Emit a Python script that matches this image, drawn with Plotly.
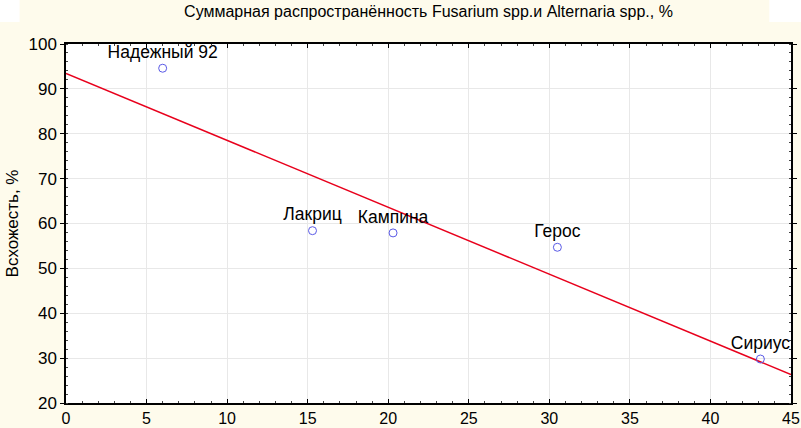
import numpy as np
import plotly.graph_objects as go

varieties = ["Надежный 92", "Лакриц", "Кампина", "Герос", "Сириус"]
prevalence = [6.0, 15.3, 20.3, 30.5, 43.1]
germination = [94.6, 58.4, 57.9, 54.7, 29.8]

x_ticks = [0, 5, 10, 15, 20, 25, 30, 35, 40, 45]
y_ticks = [20, 30, 40, 50, 60, 70, 80, 90, 100]

slope, intercept = np.polyfit(prevalence, germination, 1)
line_x = [x_ticks[0], x_ticks[-1]]
line_y = [intercept + slope * v for v in line_x]

FONT = "Liberation Sans, Arial, sans-serif"

fig = go.Figure()
fig.add_trace(go.Scatter(
    x=line_x, y=line_y, mode="lines",
    line=dict(color="#e8001c", width=1.5),
    hoverinfo="skip", showlegend=False,
))
fig.add_trace(go.Scatter(
    x=prevalence, y=germination, mode="markers+text",
    text=varieties, textposition="top center",
    textfont=dict(family=FONT, size=17.5, color="black"),
    marker=dict(symbol="circle-open", size=8, color="#5a5ae6", line=dict(width=1)),
    cliponaxis=False, showlegend=False,
))

top_band = 1 + 22 / 359
fig.update_layout(
    width=801, height=428,
    margin=dict(l=66, r=10, t=44, b=25, autoexpand=False),
    paper_bgcolor="#fefbec",
    plot_bgcolor="white",
    font=dict(family=FONT, size=17, color="black"),
    title=dict(
        text="Суммарная распространённость Fusarium spp.и Alternaria spp., %",
        font=dict(family=FONT, size=16, color="black"),
        x=0.5, xanchor="center", xref="paper", y=1 - 11 / 428, yanchor="middle",
        automargin=False,
    ),
    shapes=[
        dict(type="rect", xref="paper", yref="paper", x0=-0.1, x1=-0.064,
             y0=top_band, y1=1.2, fillcolor="white", line_width=0, layer="below"),
        dict(type="rect", xref="paper", yref="paper", x0=0.97, x1=1.1,
             y0=top_band, y1=1.2, fillcolor="white", line_width=0, layer="below"),
    ],
)

fig.update_xaxes(
    range=[x_ticks[0], x_ticks[-1]], tickvals=x_ticks, automargin=False,
    showgrid=True, gridcolor="#e8e8e8", gridwidth=1,
    showline=True, linecolor="black", linewidth=1.5, mirror="ticks",
    ticks="inside", ticklen=4, tickcolor="black",
    minor=dict(dtick=1, ticks="inside", ticklen=2, tickcolor="#444", showgrid=False),
    zeroline=False, tickfont=dict(size=16), ticklabelstandoff=0,
)
fig.update_yaxes(
    range=[y_ticks[0], y_ticks[-1]], tickvals=y_ticks, automargin=False,
    title=dict(text="Всхожесть, %", font=dict(size=17), standoff=6),
    showgrid=True, gridcolor="#e8e8e8", gridwidth=1,
    showline=True, linecolor="black", linewidth=1.5, mirror="ticks",
    ticks="outside", ticklen=4, tickcolor="black",
    minor=dict(dtick=2, ticks="inside", ticklen=2, tickcolor="#444", showgrid=False),
    zeroline=False, tickfont=dict(size=17),
)

fig.write_html(
    "out.html",
    config={"displayModeBar": False},
    post_script="document.body.style.margin='0';document.body.style.overflow='hidden';",
)
